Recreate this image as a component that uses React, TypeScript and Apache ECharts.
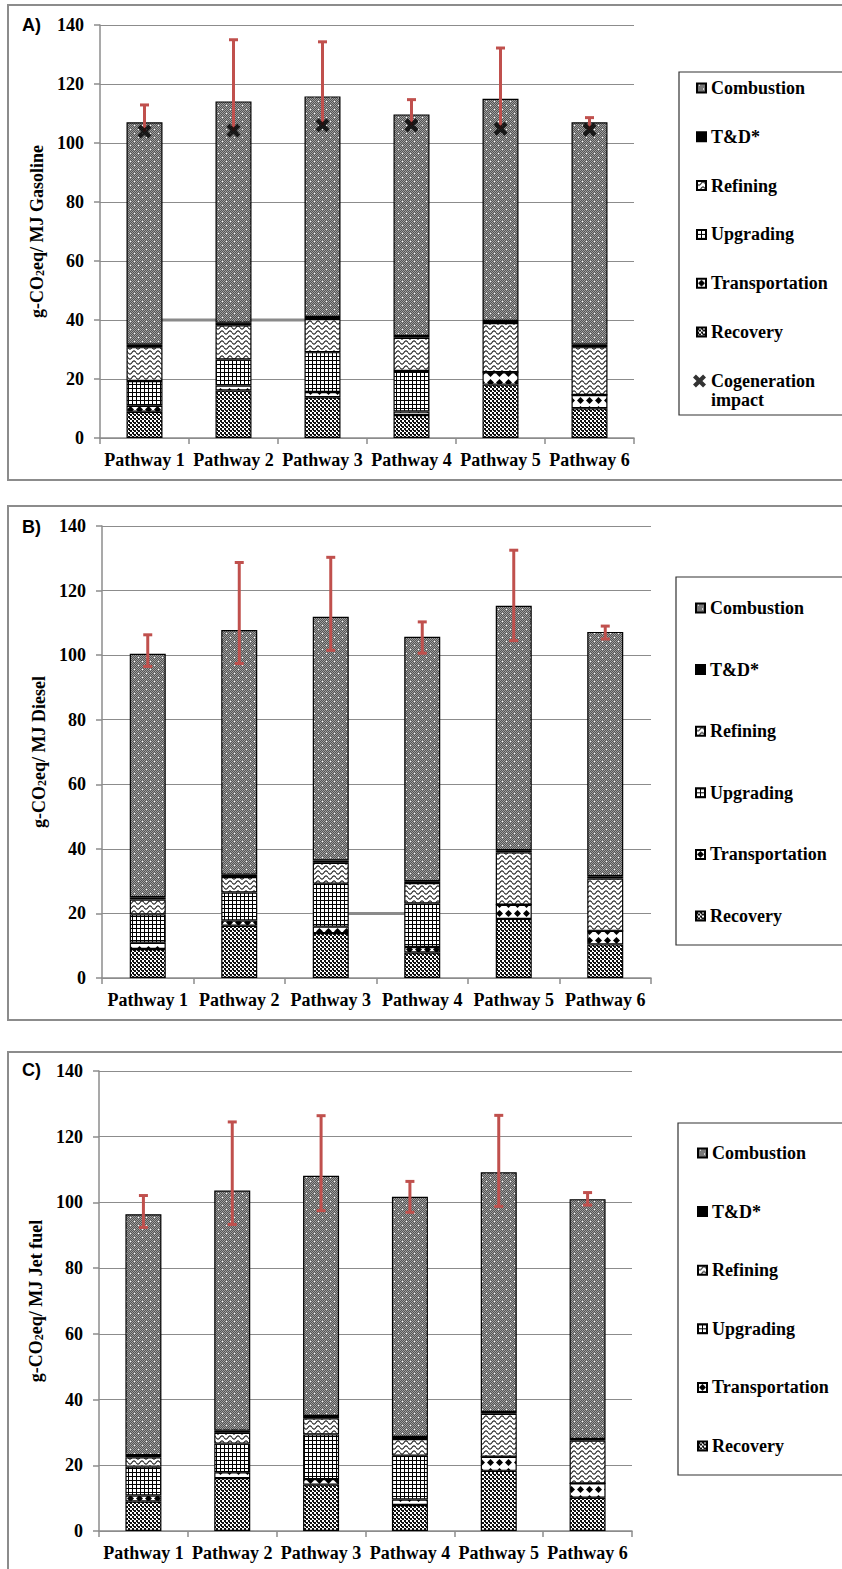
import React, { useEffect, useRef } from 'react';
import * as echarts from 'echarts';

// ---------- data ----------
const categories = ['Pathway 1', 'Pathway 2', 'Pathway 3', 'Pathway 4', 'Pathway 5', 'Pathway 6'];
const yTicks = { min: 0, max: 140, interval: 20 };

// A) Gasoline
const recoveryA = [8.9, 16.1, 13.8, 7.8, 18.1, 10.1];
const transportA = [2.0, 1.7, 1.8, 1.2, 4.2, 4.5];
const upgradingA = [8.4, 8.8, 13.5, 13.7, 0, 0];
const refiningA = [11.5, 11.6, 11.2, 11.3, 16.7, 16.2];
const tdA = [0.8, 0.9, 0.7, 0.6, 0.7, 0.8];
const combustionA = [75.4, 75.0, 74.8, 75.1, 75.3, 75.4];
const cogenerationA = [103.9, 104.2, 106.0, 106.0, 104.8, 104.5];
const errHighA = [112.9, 135.0, 134.3, 114.7, 132.2, 108.6];

// B) Diesel
const recoveryB = [9.0, 16.2, 13.9, 7.9, 18.3, 10.4];
const transportB = [1.9, 1.6, 2.0, 1.7, 4.4, 4.2];
const upgradingB = [8.8, 8.7, 13.3, 13.5, 0, 0];
const refiningB = [4.6, 4.8, 6.5, 6.3, 16.2, 16.2];
const tdB = [0.7, 0.7, 0.7, 0.6, 0.7, 0.7];
const combustionB = [75.4, 75.8, 75.5, 75.7, 75.7, 75.7];
const errLowB = [96.5, 97.4, 101.5, 100.6, 104.5, 105.0];
const errHighB = [106.3, 128.7, 130.3, 110.3, 132.5, 109.0];

// C) Jet fuel
const recoveryC = [9.0, 16.1, 14.1, 7.9, 18.3, 10.1];
const transportC = [1.8, 1.8, 1.7, 1.7, 4.3, 4.4];
const upgradingC = [8.8, 8.7, 13.6, 13.3, 0, 0];
const refiningC = [2.8, 3.3, 4.9, 5.1, 13.1, 13.0];
const tdC = [0.7, 0.6, 0.7, 0.6, 0.5, 0.5];
const combustionC = [73.3, 73.1, 73.1, 73.1, 73.0, 73.0];
const errLowC = [92.4, 93.3, 97.5, 97.0, 98.8, 99.2];
const errHighC = [102.1, 124.5, 126.4, 106.4, 126.5, 103.0];

// stray grey segments visible in the original figure
const strayA = [['Pathway 1', 40], ['Pathway 3', 40]];
const strayB = [['Pathway 3', 20], ['Pathway 4', 20]];

const stageNames = ['Recovery', 'Transportation', 'Upgrading', 'Refining', 'T&D*', 'Combustion'];
const legendNames = ['Combustion', 'T&D*', 'Refining', 'Upgrading', 'Transportation', 'Recovery'];
const yTitles = ['Gasoline', 'Diesel', 'Jet fuel'];
const panelLetters = ['A)', 'B)', 'C)'];

const SERIF = 'Liberation Serif';
const SANS = 'Liberation Sans';

function tile(w: number, h: number, draw: (ctx: CanvasRenderingContext2D) => void) {
  const c = document.createElement('canvas');
  c.width = w;
  c.height = h;
  const ctx = c.getContext('2d') as CanvasRenderingContext2D;
  draw(ctx);
  return { image: c, repeat: 'repeat', imageWidth: w, imageHeight: h } as any;
}

function makePatterns() {
  const combustion = tile(8, 8, (ctx) => {
    ctx.fillStyle = '#555555';
    ctx.fillRect(0, 0, 8, 8);
    ctx.fillStyle = '#9c9c9c';
    for (let i = 0; i < 8; i++) for (let j = 0; j < 8; j++) if ((i + j) % 2 === 0) ctx.fillRect(i, j, 1, 1);
    ctx.fillStyle = '#ffffff';
    ctx.fillRect(2, 1, 1, 1);
    ctx.fillRect(6, 5, 1, 1);
  });
  const recovery = tile(4, 4, (ctx) => {
    ctx.fillStyle = '#ffffff';
    ctx.fillRect(0, 0, 4, 4);
    ctx.fillStyle = '#111111';
    ctx.fillRect(0, 0, 2, 2);
    ctx.fillRect(2, 2, 2, 2);
    ctx.fillRect(1, 2, 1, 1);
  });
  const transport = tile(9, 9, (ctx) => {
    ctx.fillStyle = '#ffffff';
    ctx.fillRect(0, 0, 9, 9);
    ctx.fillStyle = '#000000';
    ctx.beginPath();
    ctx.moveTo(4.5, 1);
    ctx.lineTo(8, 4.5);
    ctx.lineTo(4.5, 8);
    ctx.lineTo(1, 4.5);
    ctx.closePath();
    ctx.fill();
  });
  const upgrading = tile(4, 4, (ctx) => {
    ctx.fillStyle = '#ffffff';
    ctx.fillRect(0, 0, 4, 4);
    ctx.fillStyle = '#000000';
    ctx.fillRect(0, 0, 4, 1);
    ctx.fillRect(0, 0, 1, 4);
  });
  const refining = tile(8, 5, (ctx) => {
    ctx.fillStyle = '#ffffff';
    ctx.fillRect(0, 0, 8, 5);
    ctx.strokeStyle = '#1a1a1a';
    ctx.lineWidth = 1.1;
    for (const off of [-5, 0, 5]) {
      ctx.beginPath();
      for (let x = 0; x <= 8; x += 0.5) {
        const y = off + 2.5 + 1.6 * Math.sin((2 * Math.PI * x) / 8);
        if (x === 0) ctx.moveTo(x, y);
        else ctx.lineTo(x, y);
      }
      ctx.stroke();
    }
  });
  return { combustion, recovery, transport, upgrading, refining, td: '#000000' };
}

const XMARK = 'path://M0,4.5 L4.5,0 L10,5.5 L15.5,0 L20,4.5 L14.5,10 L20,15.5 L15.5,20 L10,14.5 L4.5,20 L0,15.5 L5.5,10 Z';

export default function App() {
  const ref = useRef<HTMLDivElement>(null);

  useEffect(() => {
    if (!ref.current) return;
    const chart = echarts.init(ref.current, undefined, { renderer: 'svg' });
    const pat = makePatterns();
    const stageColor: Record<string, any> = {
      Recovery: pat.recovery,
      Transportation: pat.transport,
      Upgrading: pat.upgrading,
      Refining: pat.refining,
      'T&D*': pat.td,
      Combustion: pat.combustion,
    };

    const panels = [
      { stages: [recoveryA, transportA, upgradingA, refiningA, tdA, combustionA], low: cogenerationA, high: errHighA, lowCap: false },
      { stages: [recoveryB, transportB, upgradingB, refiningB, tdB, combustionB], low: errLowB, high: errHighB, lowCap: true },
      { stages: [recoveryC, transportC, upgradingC, refiningC, tdC, combustionC], low: errLowC, high: errHighC, lowCap: true },
    ];

    const grids = [
      { left: 100, top: 25, width: 534, height: 413 },
      { left: 102, top: 526, width: 549, height: 452 },
      { left: 99, top: 1071, width: 533, height: 460 },
    ];

    const axisLineStyle = { color: '#8c8c8c', width: 1.5 };

    const xAxis = grids.map((_, i) => ({
      type: 'category',
      gridIndex: i,
      data: categories,
      axisLine: { show: true, lineStyle: axisLineStyle },
      axisTick: { show: true, length: 6, lineStyle: axisLineStyle },
      axisLabel: { interval: 0, margin: 13, fontFamily: SERIF, fontWeight: 'bold', fontSize: 18, color: '#000' },
    }));

    const yAxis = grids.map((_, i) => ({
      type: 'value',
      gridIndex: i,
      min: yTicks.min,
      max: yTicks.max,
      interval: yTicks.interval,
      name: 'g-CO{s|2}eq/ MJ ' + yTitles[i],
      nameLocation: 'middle',
      nameRotate: 90,
      nameGap: 50,
      nameTextStyle: {
        fontFamily: SERIF,
        fontWeight: 'bold',
        fontSize: 18,
        color: '#000',
        rich: { s: { fontFamily: SERIF, fontWeight: 'bold', fontSize: 12, color: '#000', verticalAlign: 'bottom' } },
      },
      axisLine: { show: true, lineStyle: axisLineStyle },
      axisTick: { show: true, length: 6, lineStyle: axisLineStyle },
      axisLabel: { margin: 16, fontFamily: SERIF, fontWeight: 'bold', fontSize: 18, color: '#000' },
      splitLine: { show: true, lineStyle: { color: '#8c8c8c', width: 1 } },
    }));

    const series: any[] = [];
    panels.forEach((p, i) => {
      p.stages.forEach((vals, k) => {
        const name = stageNames[k];
        series.push({
          type: 'bar',
          name,
          xAxisIndex: i,
          yAxisIndex: i,
          stack: 'panel' + i,
          barWidth: 36,
          z: 3,
          data: vals,
          itemStyle: { color: stageColor[name], borderColor: '#000', borderWidth: 1.2 },
        });
      });
      series.push({
        type: 'custom',
        name: 'error' + i,
        xAxisIndex: i,
        yAxisIndex: i,
        z: 5,
        data: categories.map((_, j) => [j, p.low[j], p.high[j]]),
        renderItem: (params: any, api: any) => {
          const x = api.value(0);
          const lo = api.coord([x, api.value(1)]);
          const hi = api.coord([x, api.value(2)]);
          const st = { stroke: '#C0504D', lineWidth: 3 };
          const children: any[] = [
            { type: 'line', shape: { x1: hi[0], y1: lo[1], x2: hi[0], y2: hi[1] }, style: st },
            { type: 'line', shape: { x1: hi[0] - 4.5, y1: hi[1], x2: hi[0] + 4.5, y2: hi[1] }, style: st },
          ];
          if (p.lowCap) {
            children.push({ type: 'line', shape: { x1: lo[0] - 4.5, y1: lo[1], x2: lo[0] + 4.5, y2: lo[1] }, style: st });
          }
          return { type: 'group', children };
        },
      });
    });

    series.push({
      type: 'scatter',
      name: 'Cogeneration impact',
      xAxisIndex: 0,
      yAxisIndex: 0,
      z: 6,
      symbol: XMARK,
      symbolSize: 14,
      data: cogenerationA,
      itemStyle: { color: '#000' },
    });

    [strayA, strayB].forEach((d, i) => {
      series.push({
        type: 'line',
        name: 'stray' + i,
        xAxisIndex: i,
        yAxisIndex: i,
        z: 1,
        symbol: 'none',
        data: d,
        lineStyle: { color: '#8a8a8a', width: 3 },
      });
    });

    const legendText = { fontFamily: SERIF, fontWeight: 'bold', fontSize: 18, color: '#000' };
    const legendBase = {
      orient: 'vertical',
      icon: 'rect',
      itemWidth: 9,
      itemHeight: 9,
      padding: 0,
      selectedMode: false,
      textStyle: legendText,
    };
    const legend: any[] = [
      { ...legendBase, data: legendNames, left: 696, top: 79, itemGap: 30.8 },
      { ...legendBase, data: legendNames, left: 695, top: 599, itemGap: 43.6 },
      { ...legendBase, data: legendNames, left: 697, top: 1144, itemGap: 40.6 },
      {
        ...legendBase,
        data: [{ name: 'Cogeneration impact', icon: XMARK }],
        left: 693,
        top: 372,
        itemWidth: 13,
        itemHeight: 13,
        formatter: () => 'Cogeneration',
      },
    ];

    const frameStyle = { fill: 'none', stroke: '#8c8c8c', lineWidth: 2 };
    const boxStyle = { fill: 'none', stroke: '#333', lineWidth: 1.2 };
    const graphic: any[] = [
      { type: 'rect', shape: { x: 8, y: 5, width: 900, height: 475 }, style: frameStyle, silent: true },
      { type: 'rect', shape: { x: 8, y: 506, width: 900, height: 514 }, style: frameStyle, silent: true },
      { type: 'rect', shape: { x: 8, y: 1052, width: 900, height: 600 }, style: frameStyle, silent: true },
      { type: 'rect', shape: { x: 679, y: 72, width: 200, height: 343 }, style: boxStyle, silent: true },
      { type: 'rect', shape: { x: 676, y: 577, width: 200, height: 368 }, style: boxStyle, silent: true },
      { type: 'rect', shape: { x: 678, y: 1123, width: 200, height: 352 }, style: boxStyle, silent: true },
      {
        type: 'text',
        x: 711,
        y: 391,
        style: { text: 'impact', fontFamily: SERIF, fontWeight: 'bold', fontSize: 18, fill: '#000' },
      },
    ];
    const letterY = [16, 518, 1061];
    panelLetters.forEach((t, i) => {
      graphic.push({
        type: 'text',
        x: 22,
        y: letterY[i],
        style: { text: t, fontFamily: SANS, fontWeight: 'bold', fontSize: 18, fill: '#000' },
      });
    });

    chart.setOption({
      animation: false,
      backgroundColor: '#fff',
      grid: grids,
      xAxis,
      yAxis,
      legend,
      series,
      graphic,
    });

    return () => chart.dispose();
  }, []);

  return <div ref={ref} style={{ position: 'absolute', left: 0, top: 0, width: 842, height: 1569 }} />;
}
